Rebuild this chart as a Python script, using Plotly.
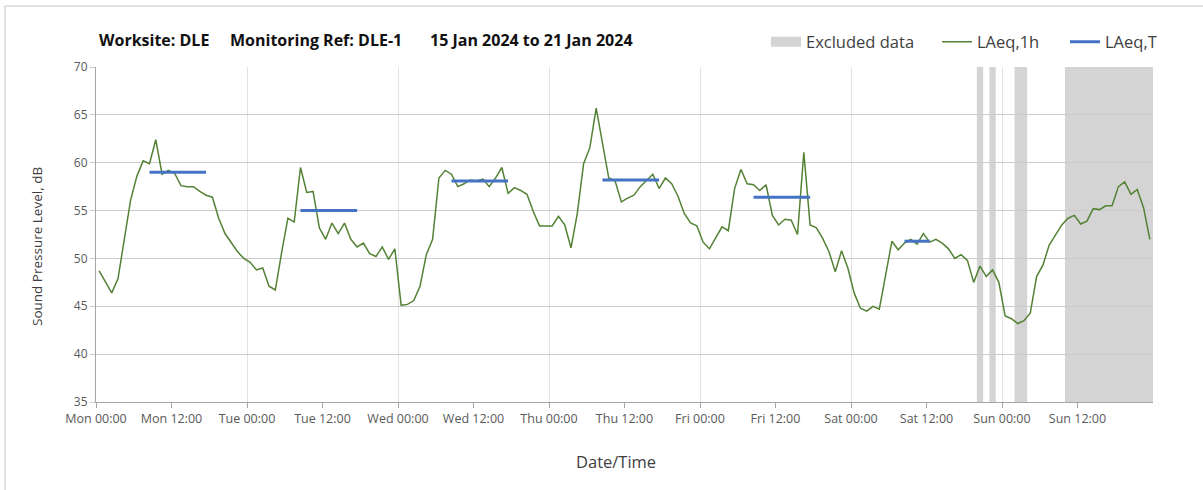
import pandas as pd
import plotly.graph_objects as go

# ---- data ----
start = pd.Timestamp("2024-01-15 00:00")
laeq_1h = [
    48.7, 47.6, 46.4, 47.9, 52.0, 56.1, 58.6, 60.2, 59.9, 62.4, 58.8, 59.2,
    58.9, 57.6, 57.5, 57.5, 57.0, 56.6, 56.4, 54.2, 52.6, 51.6, 50.7, 50.0,
    49.6, 48.8, 49.0, 47.1, 46.7, 50.6, 54.2, 53.8, 59.5, 56.9, 57.0, 53.2,
    52.0, 53.7, 52.6, 53.7, 52.0, 51.2, 51.6, 50.5, 50.2, 51.2, 49.9, 51.0,
    45.1, 45.2, 45.6, 47.1, 50.4, 52.0, 58.4, 59.2, 58.8, 57.5, 57.8, 58.2,
    58.1, 58.3, 57.5, 58.4, 59.5, 56.8, 57.4, 57.1, 56.7, 54.9, 53.4, 53.4,
    53.4, 54.4, 53.5, 51.1, 54.7, 59.9, 61.6, 65.7, 61.9, 58.4, 58.1, 55.9,
    56.3, 56.6, 57.5, 58.1, 58.8, 57.3, 58.4, 57.8, 56.5, 54.7, 53.7, 53.4,
    51.7, 51.0, 52.1, 53.3, 52.9, 57.3, 59.3, 57.8, 57.7, 57.1, 57.7, 54.5,
    53.5, 54.1, 54.0, 52.5, 61.1, 53.5, 53.2, 52.1, 50.7, 48.6, 50.8, 49.0,
    46.4, 44.8, 44.5, 45.0, 44.7, 48.1, 51.8, 50.9, 51.6, 52.0, 51.5, 52.6,
    51.7, 52.0, 51.6, 51.0, 50.0, 50.4, 49.8, 47.5, 49.2, 48.1, 48.8, 47.5,
    44.0, 43.7, 43.2, 43.5, 44.3, 48.1, 49.3, 51.4, 52.4, 53.5, 54.2, 54.5,
    53.6, 53.9, 55.2, 55.1, 55.5, 55.5, 57.5, 58.0, 56.7, 57.2, 55.3, 52.0,
]
# assessment periods: day offset, start hour, end hour, LAeq,T
period_day = [0, 1, 2, 3, 4, 5]
period_start_h = [8, 8, 8, 8, 8, 8]
period_end_h = [18, 18, 18, 18, 18, 13]
laeq_T = [59.0, 55.0, 58.1, 58.2, 56.4, 51.8]
# excluded hours (hour index from start)
excluded_hours = [140, 142, 146, 147] + list(range(154, 168))

x_tick_labels = ["Mon 00:00", "Mon 12:00", "Tue 00:00", "Tue 12:00", "Wed 00:00",
                 "Wed 12:00", "Thu 00:00", "Thu 12:00", "Fri 00:00", "Fri 12:00",
                 "Sat 00:00", "Sat 12:00", "Sun 00:00", "Sun 12:00"]
title_parts = ["Worksite: DLE", "Monitoring Ref: DLE-1", "15 Jan 2024 to 21 Jan 2024"]

# ---- build ----
half = pd.Timedelta(minutes=30)
hour = pd.Timedelta(hours=1)
times = [start + i * hour + half for i in range(len(laeq_1h))]

tx, ty = [], []
for d, s, e, v in zip(period_day, period_start_h, period_end_h, laeq_T):
    day0 = start + pd.Timedelta(days=d)
    tx += [day0 + s * hour + half, day0 + e * hour - half, None]
    ty += [v, v, None]

# merge contiguous excluded hours into runs
runs = []
for h in excluded_hours:
    if runs and runs[-1][1] == h:
        runs[-1][1] = h + 1
    else:
        runs.append([h, h + 1])

W, H = 1203, 490
ML, MR, MT, MB = 96, 50, 67, 88
PW, PH = W - ML - MR, H - MT - MB

def px(xp):
    return (xp - ML) / PW

def py(yp):
    return (H - MB - yp) / PH

GREY = "#d4d4d4"
GREEN = "#548235"
BLUE = "#4472C4"
FONT = "Open Sans"

fig = go.Figure()
# legend proxy for the excluded-data bands (lies below the visible y range)
fig.add_trace(go.Scatter(x=[start, start], y=[0, 0], mode="lines", name="Excluded data",
                         line=dict(color=GREY, width=12), legend="legend",
                         showlegend=True, hoverinfo="skip"))
fig.add_trace(go.Scatter(x=times, y=laeq_1h, mode="lines", name="LAeq,1h",
                         line=dict(color=GREEN, width=1.5), legend="legend2",
                         showlegend=True))
fig.add_trace(go.Scatter(x=tx, y=ty, mode="lines", name="LAeq,T",
                         line=dict(color=BLUE, width=3), legend="legend3",
                         showlegend=True))

shapes = []
for h0, h1 in runs:
    shapes.append(dict(type="rect", xref="x", yref="y",
                       x0=start + h0 * hour, x1=start + h1 * hour,
                       y0=35, y1=70, fillcolor=GREY, line=dict(width=0),
                       layer="below"))
# chart-area border
shapes.append(dict(type="rect", xref="paper", yref="paper",
                   x0=px(5), x1=px(1215), y0=py(6), y1=py(500),
                   line=dict(color="#d9d9d9", width=1.5), fillcolor="rgba(0,0,0,0)"))

tickvals = [start + pd.Timedelta(hours=12 * i) for i in range(len(x_tick_labels))]

leg_common = dict(orientation="h", yanchor="middle", xanchor="left",
                  bgcolor="rgba(0,0,0,0)", font=dict(family=FONT, size=16.5, color="#404040"))

annotations = []
for txt, xs in zip(title_parts, [97, 228, 428]):
    annotations.append(dict(text="<b>" + txt + "</b>", xref="paper", yref="paper",
                            x=px(xs), y=py(40), xanchor="left", yanchor="middle",
                            showarrow=False, font=dict(family=FONT, size=16, color="#111111")))
annotations += [
    dict(text="Date/Time", xref="paper", yref="paper", x=px(616), y=py(461),
         xanchor="center", yanchor="middle", showarrow=False,
         font=dict(family=FONT, size=16.5, color="#404040")),
    dict(text="Sound Pressure Level, dB", xref="paper", yref="paper", x=px(37), y=py(247),
         xanchor="center", yanchor="middle", textangle=-90, showarrow=False,
         font=dict(family=FONT, size=13.5, color="#404040")),
]

fig.update_layout(
    width=W, height=H,
    margin=dict(l=ML, r=MR, t=MT, b=MB, autoexpand=False),
    paper_bgcolor="white", plot_bgcolor="white",
    shapes=shapes,
    showlegend=True,
    font=dict(family=FONT, color="#595959"),
    legend=dict(x=px(806 - 40), y=py(42), **leg_common),
    legend2=dict(x=px(977 - 40), y=py(42), **leg_common),
    legend3=dict(x=px(1105 - 40), y=py(42), **leg_common),
    annotations=annotations,
    xaxis=dict(
        type="date",
        range=[start, start + pd.Timedelta(days=7)],
        tickmode="array", tickvals=tickvals, ticktext=x_tick_labels,
        ticks="outside", ticklen=5, tickcolor="#a6a6a6",
        showgrid=False,
        showline=True, linecolor="#a6a6a6", linewidth=1,
        tickfont=dict(family=FONT, size=12.5, color="#595959"),
        minor=dict(dtick=86400000, tick0=start, showgrid=True,
                   gridcolor="#e3e3e3", gridwidth=1, ticks=""),
        zeroline=False,
    ),
    yaxis=dict(
        range=[35, 70], dtick=5, tick0=35,
        ticks="outside", ticklen=5, tickcolor="#c8c8c8",
        showgrid=True, gridcolor="#cccccc", gridwidth=1,
        showline=True, linecolor="#a6a6a6", linewidth=1,
        tickfont=dict(family=FONT, size=12, color="#595959"),
        zeroline=False,
    ),
)

fig.write_html("out.html", config={"displayModeBar": False},
               post_script="document.body.style.margin='0';document.body.style.padding='0';")
